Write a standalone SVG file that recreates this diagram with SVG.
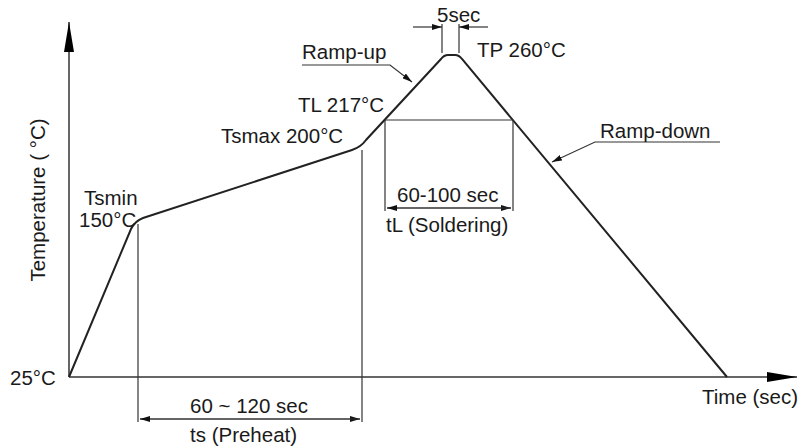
<svg xmlns="http://www.w3.org/2000/svg" width="798" height="446" viewBox="0 0 798 446">
<defs>
<style>
text{font-family:"Liberation Sans",Arial,sans-serif;font-size:20.5px;fill:#1a1a1a}
.ax{stroke:#333;stroke-width:1.5;fill:none}
.cv{stroke:#222;stroke-width:2;fill:none}
.dim{stroke:#333;stroke-width:1.2;fill:none}
</style>
<marker id="ah" viewBox="0 0 10 6" refX="10" refY="3" markerWidth="10" markerHeight="6" markerUnits="userSpaceOnUse" orient="auto"><path d="M0,0 L10,3 L0,6 Z" fill="#111"/></marker>
<marker id="big" viewBox="0 0 30 10" refX="30" refY="5" markerWidth="30" markerHeight="10" markerUnits="userSpaceOnUse" orient="auto"><path d="M0,0 L30,5 L0,10 Z" fill="#000"/></marker>
</defs>
<g id="axes">
<line class="ax" x1="69" y1="377" x2="69" y2="22" marker-end="url(#big)"/>
<line class="ax" x1="69" y1="377" x2="797" y2="377" marker-end="url(#big)"/>
<text x="10" y="385">25°C</text>
<text x="702" y="404">Time (sec)</text>
<text transform="translate(45,200) rotate(-90)" text-anchor="middle">Temperature ( °C)</text>
</g>
<g id="profile">
<path class="cv" d="M69,377 L131,229 Q135,221 143,218 L352,150 Q361,147 366,140 L441,59 Q444,55 448,55 L455,55 Q459,55 462,59 L727,377"/>
</g>
<g id="connectors">
<line class="dim" x1="138" y1="224" x2="138" y2="422"/>
<line class="dim" x1="362" y1="150" x2="362" y2="422"/>
<line class="dim" x1="140" y1="419" x2="360" y2="419" marker-end="url(#ah)"/>
<line class="dim" x1="360" y1="419" x2="140" y2="419" marker-end="url(#ah)"/>
<line class="dim" x1="385" y1="120" x2="513" y2="120"/>
<line class="dim" x1="385" y1="120" x2="385" y2="211"/>
<line class="dim" x1="513" y1="120" x2="513" y2="211"/>
<line class="dim" x1="387" y1="208" x2="511" y2="208" marker-end="url(#ah)"/>
<line class="dim" x1="511" y1="208" x2="387" y2="208" marker-end="url(#ah)"/>
<line class="dim" x1="442" y1="24" x2="442" y2="53"/>
<line class="dim" x1="459" y1="24" x2="459" y2="53"/>
<line class="dim" x1="413" y1="27" x2="442" y2="27" marker-end="url(#ah)"/>
<line class="dim" x1="488" y1="27" x2="459" y2="27" marker-end="url(#ah)"/>
<path class="dim" d="M302,65 L390,65 L412,82" marker-end="url(#ah)"/>
<path class="dim" d="M720,142 L595,142 L552,162" marker-end="url(#ah)"/>
</g>
<g id="labels">
<text x="84" y="205">Tsmin</text>
<text x="79" y="227">150°C</text>
<text x="221" y="143">Tsmax 200°C</text>
<text x="298" y="112">TL 217°C</text>
<text x="302" y="59">Ramp-up</text>
<text x="437" y="22">5sec</text>
<text x="477" y="57">TP 260°C</text>
<text x="600" y="138">Ramp-down</text>
<text x="397" y="202">60-100 sec</text>
<text x="386" y="232">tL (Soldering)</text>
<text x="190" y="413">60 ~ 120 sec</text>
<text x="190" y="442">ts (Preheat)</text>
</g>
</svg>
